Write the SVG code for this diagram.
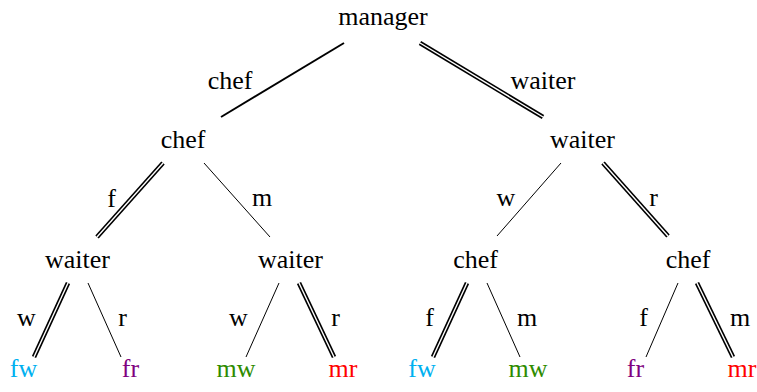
<svg xmlns="http://www.w3.org/2000/svg" width="757" height="392" viewBox="0 0 757 392">
<style>
text{font-family:"Liberation Serif","Times New Roman",serif;font-size:26px;text-anchor:middle;fill:#000}
.e1{stroke:#000;stroke-width:2;fill:none}
.e0{stroke:#000;stroke-width:1;fill:none}
.dbo{stroke:#000;stroke-width:4.6;fill:none}
.dbi{stroke:#fff;stroke-width:1.4;fill:none}
.fw{fill:#00b0f0}.fr{fill:#800080}.mw{fill:#2e8b00}.mr{fill:#ff0000}
</style>
<g id="connectors">
<line class="e1" x1="344" y1="43" x2="221" y2="117"/>
<line class="dbo" x1="420" y1="43" x2="543" y2="117"/><line class="dbi" x1="420" y1="43" x2="543" y2="117"/>
<line class="dbo" x1="163" y1="163" x2="97" y2="237"/><line class="dbi" x1="163" y1="163" x2="97" y2="237"/>
<line class="e0" x1="204" y1="163" x2="270" y2="237"/>
<line class="e0" x1="561" y1="163" x2="497" y2="236"/>
<line class="dbo" x1="603" y1="163" x2="668" y2="236"/><line class="dbi" x1="603" y1="163" x2="668" y2="236"/>
<line class="dbo" x1="68" y1="283" x2="34" y2="357"/><line class="dbi" x1="68" y1="283" x2="34" y2="357"/>
<line class="e0" x1="88" y1="283" x2="121" y2="357"/>
<line class="e0" x1="279" y1="283" x2="246" y2="357"/>
<line class="dbo" x1="299" y1="283" x2="334" y2="357"/><line class="dbi" x1="299" y1="283" x2="334" y2="357"/>
<line class="dbo" x1="467" y1="283" x2="433" y2="357"/><line class="dbi" x1="467" y1="283" x2="433" y2="357"/>
<line class="e0" x1="487" y1="283" x2="520" y2="357"/>
<line class="e0" x1="678" y1="283" x2="646" y2="357"/>
<line class="dbo" x1="697" y1="283" x2="733" y2="357"/><line class="dbi" x1="697" y1="283" x2="733" y2="357"/>
<text x="230" y="89">chef</text>
<text x="543" y="89">waiter</text>
<text x="111.5" y="207">f</text>
<text x="262" y="206">m</text>
<text x="506" y="206">w</text>
<text x="653.5" y="206">r</text>
<text x="26.5" y="326">w</text>
<text x="122.5" y="326">r</text>
<text x="238.5" y="326">w</text>
<text x="335.5" y="326">r</text>
<text x="429.5" y="326">f</text>
<text x="527" y="326">m</text>
<text x="643.5" y="326">f</text>
<text x="740" y="326">m</text>
</g>
<g id="n_manager"><text x="383" y="25">manager</text></g>
<g id="n_chef"><text x="183" y="148">chef</text></g>
<g id="n_waiter"><text x="582.5" y="148">waiter</text></g>
<g id="n_chef_waiter1"><text x="77.5" y="268">waiter</text></g>
<g id="n_chef_waiter2"><text x="290.5" y="268">waiter</text></g>
<g id="n_waiter_chef1"><text x="475.5" y="268">chef</text></g>
<g id="n_waiter_chef2"><text x="688" y="268">chef</text></g>
<g id="leaf_fw1"><text class="fw" x="23.5" y="377">fw</text></g>
<g id="leaf_fr1"><text class="fr" x="130.5" y="377">fr</text></g>
<g id="leaf_mw1"><text class="mw" x="236" y="377">mw</text></g>
<g id="leaf_mr1"><text class="mr" x="343" y="377">mr</text></g>
<g id="leaf_fw2"><text class="fw" x="422" y="377">fw</text></g>
<g id="leaf_mw2"><text class="mw" x="528" y="377">mw</text></g>
<g id="leaf_fr2"><text class="fr" x="635.5" y="377">fr</text></g>
<g id="leaf_mr2"><text class="mr" x="742" y="377">mr</text></g>
</svg>
